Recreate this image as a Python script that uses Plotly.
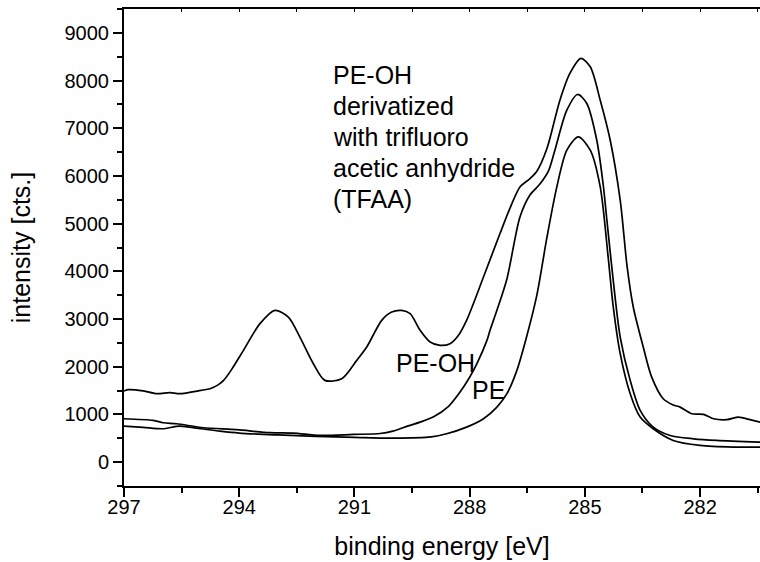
import plotly.graph_objects as go

# C1s XPS spectra (binding energy in eV, intensity in counts)
tfaa_ev = [297.0, 296.9, 296.5, 296.15, 295.8, 295.55, 295.0, 294.76, 294.55, 294.40, 294.20,
           293.89, 293.46, 293.07, 292.72, 292.42, 292.07, 291.77, 291.33, 290.94, 290.68,
           290.29, 290.03, 289.77, 289.55, 289.29, 289.03, 288.77, 288.51, 288.30, 288.08,
           287.64, 287.21, 286.90, 286.69, 286.43, 286.25, 285.99, 285.65, 285.39, 285.10,
           284.86, 284.60, 284.34, 284.08, 283.90, 283.74, 283.48, 283.26, 282.96, 282.70,
           282.52, 282.22, 281.91, 281.65, 281.30, 281.00, 280.70, 280.44]
tfaa_cts = [1490, 1520, 1495, 1435, 1456, 1435, 1504, 1540, 1620, 1720, 1940,
            2343, 2904, 3183, 3042, 2622, 2064, 1714, 1750, 2134, 2413,
            2973, 3147, 3180, 3113, 2763, 2518, 2448, 2484, 2650, 2973,
            3881, 4792, 5421, 5770, 5946, 6100, 6570, 7588, 8149, 8463,
            8288, 7588, 6749, 5491, 4100, 3252, 2413, 1783, 1330, 1200,
            1154, 1015, 1001, 910, 890, 944, 890, 839]

peoh_ev = [297.0, 296.24, 295.98, 295.63, 294.93, 294.07, 293.2, 292.59, 291.9, 291.03,
           290.33, 290.0, 289.6, 289.29, 288.95, 288.55, 288.25, 288.0, 287.82, 287.55,
           287.47, 287.29, 287.03, 286.69, 286.43, 286.17, 285.95, 285.78, 285.47, 285.19,
           284.95, 284.69, 284.52, 284.43, 284.26, 284.08, 283.82, 283.56, 283.22, 282.78,
           282.17, 281.57, 280.44]
peoh_cts = [910, 875, 826, 805, 721, 680, 617, 608, 560, 581,
            600, 650, 760, 839, 944, 1170, 1470, 1780, 2050, 2553,
            2763, 3183, 3840, 5140, 5600, 5830, 6100, 6540, 7378, 7708,
            7519, 6749, 5800, 5100, 3800, 2623, 1714, 1085, 734, 560,
            490, 455, 420]

pe_ev = [297.0, 296.5, 296.0, 295.55, 295.0, 294.5, 294.0, 293.0, 292.0, 291.0,
         290.0, 289.0, 288.60, 288.08, 287.64, 287.29, 287.03, 286.77, 286.51, 286.25,
         285.99, 285.73, 285.47, 285.17, 284.86, 284.60, 284.40, 284.26, 284.08, 283.82,
         283.56, 283.22, 282.70, 282.0, 281.13, 280.44]
pe_cts = [755, 730, 700, 755, 700, 650, 610, 570, 540, 520,
          505, 530, 595, 734, 910, 1154, 1435, 1924, 2650, 3500,
          4700, 5770, 6540, 6819, 6540, 5770, 4350, 3250, 2274, 1435,
          944, 700, 455, 350, 315, 315]

x_range = [297.0, 280.44]
y_range = [-500, 9500]
x_ticks = [297, 294, 291, 288, 285, 282]
y_ticks = [0, 1000, 2000, 3000, 4000, 5000, 6000, 7000, 8000, 9000]

note_lines = ["PE-OH", "derivatized", "with trifluoro", "acetic anhydride", "(TFAA)"]
note_y = [8106, 7460, 6817, 6171, 5527]

FONT = "Liberation Sans, Arial, sans-serif"
line_style = dict(color="black", width=1.7, shape="spline", smoothing=0.8)

fig = go.Figure()
for xs, ys, name in [(tfaa_ev, tfaa_cts, "PE-OH + TFAA"),
                     (peoh_ev, peoh_cts, "PE-OH"),
                     (pe_ev, pe_cts, "PE")]:
    fig.add_trace(go.Scatter(x=xs, y=ys, mode="lines", name=name,
                             line=line_style, showlegend=False))

# invisible trace so the top axis exists
fig.add_trace(go.Scatter(x=[x_range[0]], y=[0], xaxis="x2", mode="lines",
                         showlegend=False, hoverinfo="skip",
                         line=dict(color="rgba(0,0,0,0)")))

fig.update_layout(
    width=760, height=562,
    margin=dict(l=124, r=0, t=9, b=76),
    paper_bgcolor="white", plot_bgcolor="white",
    font=dict(family=FONT, color="black"),
    xaxis=dict(
        range=x_range, tickvals=x_ticks, ticks="outside", ticklen=9, tickwidth=1.6,
        tickcolor="black", showline=True, linecolor="black", linewidth=2,
        showgrid=False, zeroline=False, tickfont=dict(size=20, family=FONT),
        ticklabelstandoff=-7,
        minor=dict(tick0=297, dtick=1.5, ticks="outside", ticklen=5,
                   tickwidth=1.6, tickcolor="black", showgrid=False),
        title=dict(text="binding energy [eV]", font=dict(size=25, family=FONT),
                   standoff=20),
    ),
    xaxis2=dict(
        range=x_range, overlaying="x", side="top", showticklabels=False,
        tick0=297, dtick=1.5, ticks="inside", ticklen=3, tickwidth=1.4,
        tickcolor="black", showline=True, linecolor="black", linewidth=2,
        showgrid=False, zeroline=False,
    ),
    yaxis=dict(
        range=y_range, tickvals=y_ticks, ticks="outside", ticklen=9, tickwidth=1.6,
        tickcolor="black", showline=True, linecolor="black", linewidth=2,
        showgrid=False, zeroline=False, tickfont=dict(size=20, family=FONT),
        minor=dict(tick0=-500, dtick=500, ticks="outside", ticklen=5,
                   tickwidth=1.6, tickcolor="black", showgrid=False),
        title=dict(text="intensity [cts.]", font=dict(size=25, family=FONT),
                   standoff=27),
    ),
)

for txt, yv in zip(note_lines, note_y):
    fig.add_annotation(x=291.61, y=yv, xref="x", yref="y", xanchor="left",
                       yanchor="middle", showarrow=False, text=txt,
                       font=dict(size=25, family=FONT, color="black"))
fig.add_annotation(x=288.90, y=2071, xref="x", yref="y", showarrow=False,
                   text="PE-OH", font=dict(size=25, family=FONT, color="black"))
fig.add_annotation(x=287.52, y=1504, xref="x", yref="y", showarrow=False,
                   text="PE", font=dict(size=25, family=FONT, color="black"))

fig.write_html("out.html")
